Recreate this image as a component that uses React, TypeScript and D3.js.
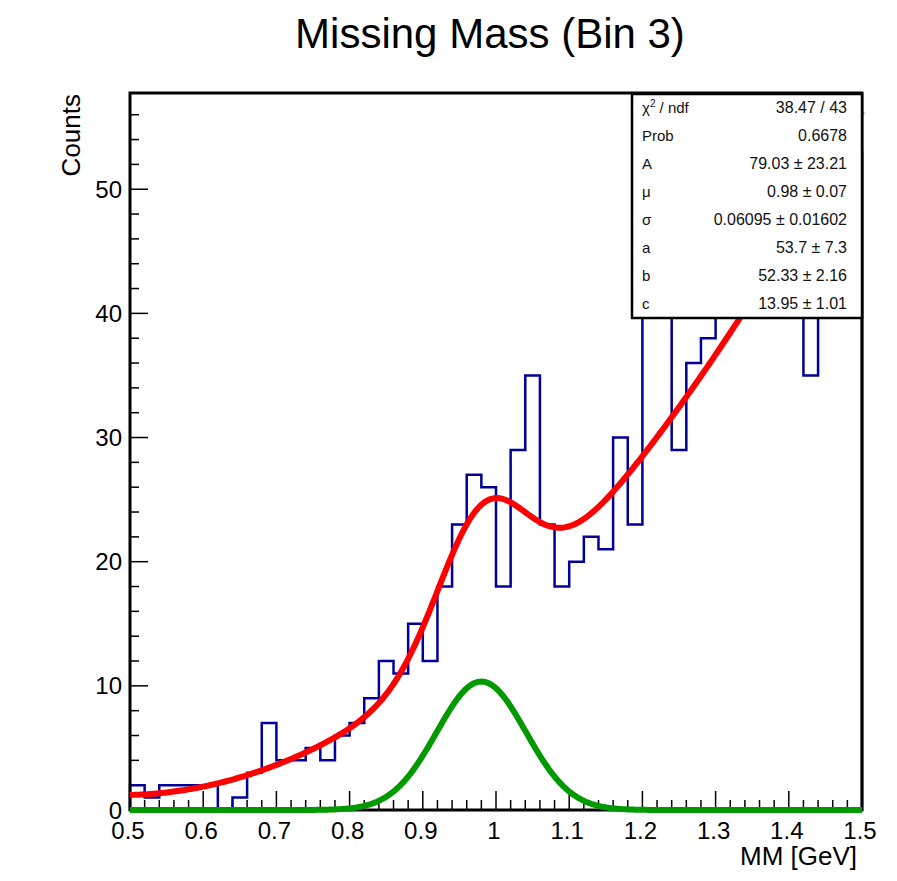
import React from "react";
import * as d3 from "d3";

// ---------- data ----------
const title = "Missing Mass (Bin 3)";
const xTitle = "MM [GeV]";
const yTitle = "Counts";
const binStart = 0.5;
const binWidth = 0.02;
const counts = [
  2, 1, 2, 2, 2, 2, 0, 1, 3, 7,
  4, 4, 5, 4, 6, 7, 9, 12, 11, 15,
  12, 18, 23, 27, 26, 18, 29, 35, 23, 18,
  20, 22, 21, 30, 23, 44, 41, 29, 36, 38,
  43, 45, 47, 44, 50, 48, 35, 55, 49, 53,
];
const xTickValues = [0.5, 0.6, 0.7, 0.8, 0.9, 1.0, 1.1, 1.2, 1.3, 1.4, 1.5];
const xTickLabels = ["0.5", "0.6", "0.7", "0.8", "0.9", "1", "1.1", "1.2", "1.3", "1.4", "1.5"];
const yTickValues = [0, 10, 20, 30, 40, 50];
const yTickLabels = ["0", "10", "20", "30", "40", "50"];
// fit parameters: A, mu, sigma (gaussian), a, b, c (background a x^2 - b x + c)
const fitNames = ["A", "μ", "σ", "a", "b", "c"];
const fitValues = [79.03, 0.98, 0.06095, 53.7, 52.33, 13.95];
const fitErrors = ["23.21", "0.07", "0.01602", "7.3", "2.16", "1.01"];
const fitValueText = ["79.03", "0.98", "0.06095", "53.7", "52.33", "13.95"];
const chi2Text = "38.47 / 43";
const probText = "0.6678";

const FONT = "'Liberation Sans', Arial, Helvetica, sans-serif";

export default function App() {
  const W = 897, H = 881;
  const left = 130, right = 862, top = 93, bottom = 810;
  const xMax = binStart + binWidth * counts.length;
  const x = d3.scaleLinear().domain([binStart, xMax]).range([left, right]);
  const yMax = (d3.max(counts) as number) * 1.05;
  const y = d3.scaleLinear().domain([0, yMax]).range([bottom, top]);

  // histogram outline
  let hd = `M${x(binStart)},${y(0)}`;
  counts.forEach((c, i) => {
    const x0 = x(binStart + i * binWidth);
    const x1 = x(binStart + (i + 1) * binWidth);
    hd += `V${y(c)}H${x1}`;
    void x0;
  });
  hd += `V${y(0)}`;

  const [A, mu, sig, a, b, c] = fitValues;
  const gauss = (v: number) =>
    ((A * binWidth) / (sig * Math.sqrt(2 * Math.PI))) * Math.exp(-0.5 * ((v - mu) / sig) ** 2);
  const bg = (v: number) => a * v * v - b * v + c;
  const xs = d3.range(0, 401).map((i) => binStart + (i / 400) * (xMax - binStart));
  const line = d3
    .line<number>()
    .x((v) => x(v))
    .curve(d3.curveLinear);
  const redPath = line.y((v) => y(gauss(v) + bg(v)))(xs) as string;
  const greenPath = d3
    .line<number>()
    .x((v) => x(v))
    .y((v) => y(gauss(v)))(xs) as string;

  // minor ticks
  const xMinor = d3.range(0, 51).map((i) => binStart + i * 0.02);
  const yMinor = d3.range(0, 29).map((i) => i * 2);

  // stats box
  const sbL = 632, sbR = 862, sbT = 94, sbB = 318;
  const rowH = (sbB - sbT) / 8;
  const statLabels: React.ReactNode[] = [
    <>
      χ<tspan dy={-6} fontSize={10}>2</tspan>
      <tspan dy={6}> / ndf</tspan>
    </>,
    "Prob",
    ...fitNames,
  ];
  const statVals = [chi2Text, probText, ...fitValueText.map((v, i) => `${v} ± ${fitErrors[i]}`)];

  return (
    <svg
      width={W}
      height={H}
      style={{ position: "absolute", left: 0, top: 0, background: "#fff" }}
      fontFamily={FONT}
    >
      <rect x={0} y={0} width={W} height={H} fill="#fff" />
      <text x={490} y={48} textAnchor="middle" fontSize={42} fill="#000">
        {title}
      </text>

      {/* ticks */}
      <g stroke="#000" strokeWidth={1.5}>
        {yMinor.map((v) => (
          <line key={"ym" + v} x1={left} x2={left + (v % 10 === 0 ? 18 : 9)} y1={y(v)} y2={y(v)} />
        ))}
        {xMinor.map((v, i) => (
          <line key={"xm" + i} x1={x(v)} x2={x(v)} y1={bottom} y2={bottom - (i % 5 === 0 ? 19 : 10)} />
        ))}
      </g>

      {/* histogram */}
      <path d={hd} fill="none" stroke="#000099" strokeWidth={2.5} />

      {/* frame */}
      <rect x={left} y={top} width={right - left} height={bottom - top} fill="none" stroke="#000" strokeWidth={3} />

      {/* fits */}
      <path d={redPath} fill="none" stroke="#ff0000" strokeWidth={6} strokeLinejoin="round" />
      <path d={greenPath} fill="none" stroke="#009900" strokeWidth={6} strokeLinejoin="round" />

      {/* tick labels */}
      {xTickValues.map((v, i) => (
        <text key={"xl" + i} x={x(v) - 2} y={839} textAnchor="middle" fontSize={24} fill="#000">
          {xTickLabels[i]}
        </text>
      ))}
      {yTickValues.map((v, i) => (
        <text key={"yl" + i} x={122} y={y(v) + 8.5} textAnchor="end" fontSize={24} fill="#000">
          {yTickLabels[i]}
        </text>
      ))}

      {/* axis titles */}
      <text x={857} y={865} textAnchor="end" fontSize={26} fill="#000">
        {xTitle}
      </text>
      <text transform={`translate(80,94) rotate(-90)`} textAnchor="end" fontSize={26} fill="#000">
        {yTitle}
      </text>

      {/* stats box */}
      <rect x={sbL} y={sbT} width={sbR - sbL} height={sbB - sbT} fill="#fff" stroke="#000" strokeWidth={2.5} />
      {statLabels.map((lab, i) => (
        <text key={"sl" + i} x={642} y={sbT + rowH * (i + 0.5) + 5} fontSize={15} fill="#111">
          {lab}
        </text>
      ))}
      {statVals.map((v, i) => (
        <text key={"sv" + i} x={847} y={sbT + rowH * (i + 0.5) + 5} textAnchor="end" fontSize={16} fill="#111">
          {v}
        </text>
      ))}
    </svg>
  );
}
